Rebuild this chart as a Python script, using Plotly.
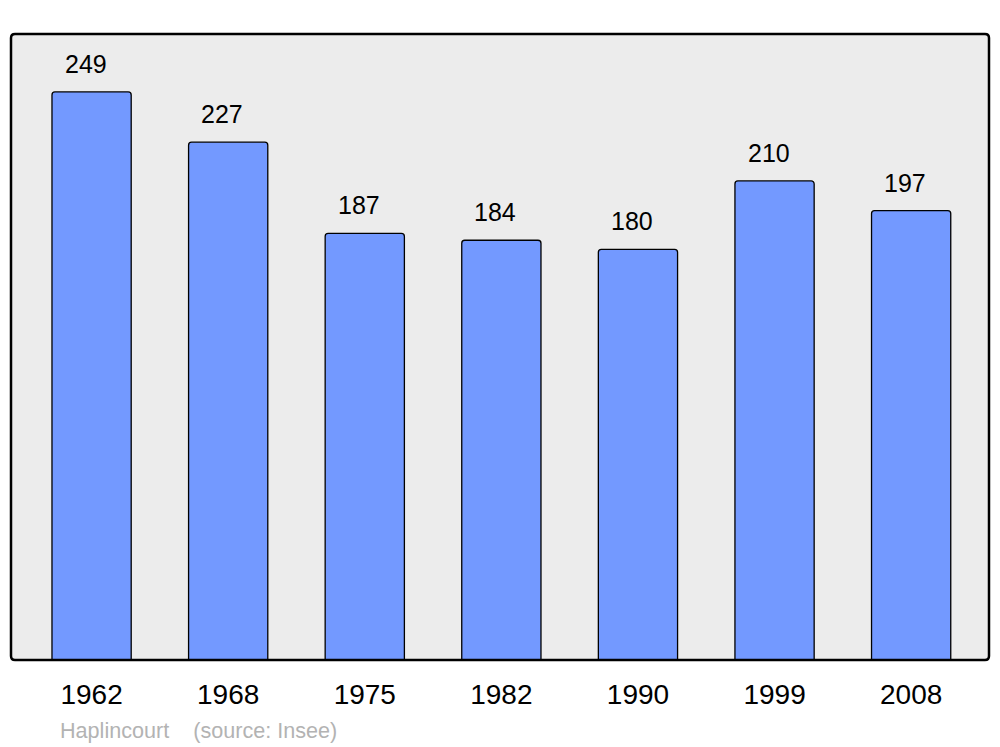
import plotly.graph_objects as go

years = ["1962", "1968", "1975", "1982", "1990", "1999", "2008"]
population = [249, 227, 187, 184, 180, 210, 197]
footer_text = "Haplincourt    (source: Insee)"

W, H = 978, 626  # plot area in pixels
r = 4

fig = go.Figure()
fig.add_trace(go.Bar(
    x=list(range(len(years))), y=population, width=0.58,
    marker=dict(color="#7399ff", line=dict(color="black", width=1.3), cornerradius=3),
    hoverinfo="skip",
))

for i, v in enumerate(population):
    fig.add_annotation(x=i, y=v, text=str(v), showarrow=False, yanchor="middle",
                       yshift=28, xshift=-6, font=dict(size=25, color="black", family="Liberation Sans"))

fig.add_annotation(xref="paper", yref="paper", x=0.048, y=-0.112, xanchor="left", yanchor="middle",
                   text=footer_text.replace(" ", "&nbsp;"), showarrow=False,
                   font=dict(size=21.6, color="#b3b3b3", family="Liberation Sans"))

path = (f"M {r},0 L {W-r},0 Q {W},0 {W},{r} L {W},{H-r} Q {W},{H} {W-r},{H} "
        f"L {r},{H} Q 0,{H} 0,{H-r} L 0,{r} Q 0,0 {r},0 Z")
fig.add_shape(type="path", xref="paper", yref="paper", xsizemode="pixel", ysizemode="pixel",
              xanchor=0, yanchor=0, path=path,
              line=dict(color="black", width=2.5), layer="above")

fig.update_layout(
    width=992, height=739,
    margin=dict(l=3, r=11, t=26, b=87),
    paper_bgcolor="white", plot_bgcolor="#ececec",
    showlegend=False,
    font=dict(family="Liberation Sans"),
    xaxis=dict(range=[-0.59, 6.57], tickmode="array", tickvals=list(range(len(years))),
               ticktext=years, showgrid=False, zeroline=False, ticks="",
               tickfont=dict(size=28, color="black"), ticklabelstandoff=15, fixedrange=True),
    yaxis=dict(range=[0, 274.4], showgrid=False, zeroline=False, showticklabels=False, fixedrange=True),
)

fig.write_html("out.html")
